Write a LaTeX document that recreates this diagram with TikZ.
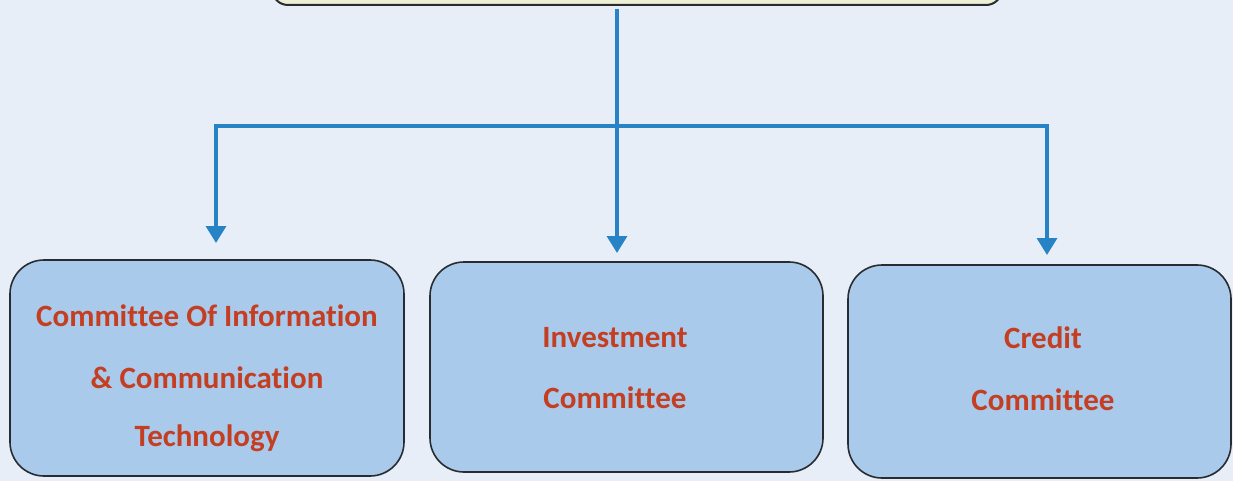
\documentclass[tikz,border=0pt]{standalone}
\usepackage{fontspec}
\setmainfont[RawFeature={-liga}]{Carlito}
\usetikzlibrary{arrows.meta}
\definecolor{bgcol}{RGB}{232,238,248}
\definecolor{boxfill}{RGB}{170,202,236}
\definecolor{topfill}{RGB}{238,240,214}
\definecolor{linkcol}{RGB}{38,132,198}
\definecolor{labelcol}{RGB}{196,62,34}
\definecolor{edgecol}{RGB}{40,44,48}
\tikzset{
  unit/.style={draw=edgecol, line width=1.6pt, fill=boxfill, rounded corners=34pt},
  label/.style={font=\bfseries\fontsize{31}{31}\selectfont, text=labelcol, anchor=center},
  link/.style={draw=linkcol, line width=3.4pt},
  linkarrow/.style={link, -{Triangle[length=17pt,width=20pt]}},
}
\begin{document}
\begin{tikzpicture}[x=1pt,y=-1pt]
  \useasboundingbox (0,0) rectangle (1233,481);
  \fill[bgcol] (0,0) rectangle (1233,481);
  \begin{scope}
    \clip (0,0) rectangle (1233,481);
    % board box, mostly above the visible area
    \draw[draw=edgecol, line width=2pt, fill=topfill, rounded corners=16pt] (272,-60) rectangle (1002,5);
    \coordinate (board) at (617,5);
  \end{scope}
  % committee boxes
  \draw[unit] (10,260) rectangle (404,476);
  \coordinate (ict) at (216,260);
  \draw[unit] (430,262) rectangle (823,472);
  \coordinate (inv) at (617,262);
  \draw[unit] (848,265) rectangle (1231,478);
  \coordinate (cre) at (1047,265);
  % labels
  \node[label] (l1a) at (207,316) {Committee Of Information};
  \node[label] (l1b) at (207,378) {\& Communication};
  \node[label] (l1c) at (207,438) {Technology};
  \node[label] (l2a) at (615,338) {Investment};
  \node[label] (l2b) at (615,398) {Committee};
  \node[label] (l3a) at (1043,338) {Credit};
  \node[label] (l3b) at (1043,400) {Committee};
  % connectors (yshift is in canvas units, so positive moves up)
  \coordinate (bus) at (617,126);
  \draw[link] ([yshift=-4pt]board) -- (bus);
  \draw[linkarrow] (bus) -| ([yshift=17pt]ict);
  \draw[linkarrow] (bus) -- ([yshift=9pt]inv);
  \draw[linkarrow] (bus) -| ([yshift=10pt]cre);
\end{tikzpicture}
\end{document}
